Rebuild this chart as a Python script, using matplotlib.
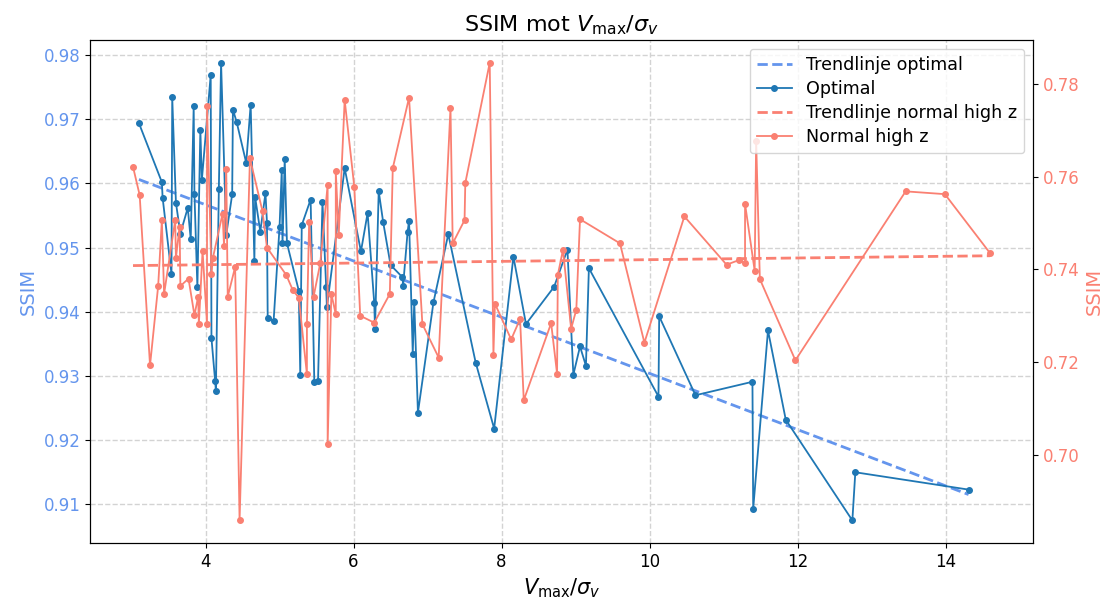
import numpy as np
import matplotlib
matplotlib.use("Agg")
import matplotlib.pyplot as plt

# Optimal
x_opt = [3.10, 3.41, 3.42, 3.54, 3.55, 3.60, 3.66, 3.76, 3.80, 3.84, 3.85, 3.89, 3.93, 3.95,
         4.07, 4.08, 4.13, 4.14, 4.18, 4.21, 4.28, 4.36, 4.37, 4.42, 4.55, 4.61, 4.66, 4.67,
         4.74, 4.81, 4.83, 4.84, 4.92, 5.00, 5.03, 5.04, 5.07, 5.10, 5.26, 5.28, 5.30, 5.42,
         5.47, 5.52, 5.58, 5.63, 5.64, 5.88, 6.10, 6.19, 6.28, 6.29, 6.34, 6.40, 6.50, 6.66,
         6.67, 6.73, 6.75, 6.80, 6.82, 6.87, 7.08, 7.28, 7.65, 7.90, 8.16, 8.33, 8.71, 8.89,
         8.97, 9.06, 9.14, 9.18, 10.12, 10.13, 10.62, 11.39, 11.40, 11.60, 11.84, 12.74, 12.78, 14.31]
ssim_opt = [0.9694, 0.9602, 0.9578, 0.9459, 0.9734, 0.9570, 0.9522, 0.9562, 0.9513, 0.9720, 0.9584, 0.9438, 0.9684, 0.9605,
            0.9769, 0.9359, 0.9292, 0.9277, 0.9592, 0.9788, 0.9520, 0.9583, 0.9715, 0.9696, 0.9632, 0.9723, 0.9479, 0.9579,
            0.9525, 0.9585, 0.9539, 0.9390, 0.9386, 0.9532, 0.9621, 0.9507, 0.9638, 0.9507, 0.9433, 0.9302, 0.9535, 0.9575,
            0.9290, 0.9292, 0.9571, 0.9439, 0.9407, 0.9624, 0.9494, 0.9554, 0.9413, 0.9373, 0.9588, 0.9540, 0.9473, 0.9454,
            0.9441, 0.9524, 0.9542, 0.9335, 0.9416, 0.9243, 0.9415, 0.9521, 0.9321, 0.9218, 0.9486, 0.9381, 0.9439, 0.9497,
            0.9302, 0.9346, 0.9316, 0.9468, 0.9268, 0.9393, 0.9270, 0.9291, 0.9093, 0.9371, 0.9232, 0.9075, 0.9150, 0.9123]

# Normal high z
x_norm = [3.02, 3.11, 3.25, 3.36, 3.41, 3.44, 3.59, 3.60, 3.65, 3.66, 3.77, 3.85, 3.90, 3.91, 3.96,
          4.02, 4.02, 4.08, 4.10, 4.23, 4.25, 4.28, 4.30, 4.40, 4.46, 4.60, 4.77, 4.83, 5.09, 5.18,
          5.26, 5.37, 5.37, 5.40, 5.46, 5.55, 5.65, 5.65, 5.70, 5.76, 5.76, 5.80, 5.88, 6.01, 6.09,
          6.28, 6.49, 6.53, 6.75, 6.93, 7.15, 7.31, 7.34, 7.50, 7.51, 7.84, 7.89, 7.91, 8.13, 8.25,
          8.30, 8.67, 8.75, 8.76, 8.83, 8.94, 9.01, 9.06, 9.60, 9.93, 10.47, 11.04, 11.21, 11.29, 11.29,
          11.42, 11.44, 11.49, 11.97, 13.46, 13.99, 14.60]
ssim_norm = [0.7621, 0.7560, 0.7193, 0.7364, 0.7506, 0.7347, 0.7506, 0.7425, 0.7492, 0.7364, 0.7380, 0.7301, 0.7341, 0.7282, 0.7440,
             0.7283, 0.7753, 0.7391, 0.7425, 0.7520, 0.7451, 0.7616, 0.7341, 0.7405, 0.6859, 0.7639, 0.7525, 0.7447, 0.7388, 0.7355,
             0.7339, 0.7174, 0.7283, 0.7503, 0.7341, 0.7413, 0.7582, 0.7023, 0.7347, 0.7303, 0.7611, 0.7474, 0.7765, 0.7578, 0.7300,
             0.7285, 0.7347, 0.7618, 0.7770, 0.7282, 0.7210, 0.7748, 0.7456, 0.7506, 0.7586, 0.7845, 0.7216, 0.7326, 0.7249, 0.7293,
             0.7118, 0.7284, 0.7175, 0.7388, 0.7442, 0.7272, 0.7313, 0.7508, 0.7456, 0.7242, 0.7514, 0.7410, 0.7420, 0.7413, 0.7541,
             0.7397, 0.7677, 0.7379, 0.7204, 0.7568, 0.7562, 0.7435]

# trendlinjer (lineær tilpasning)
k1, m1 = np.polyfit(x_opt, ssim_opt, 1)
k2, m2 = np.polyfit(x_norm, ssim_norm, 1)
xt1 = np.array([min(x_opt), max(x_opt)])
xt2 = np.array([min(x_norm), max(x_norm)])

fig, ax1 = plt.subplots(figsize=(11.13, 6.05), dpi=100)
fig.subplots_adjust(left=0.081, right=0.928, top=0.934, bottom=0.102)

l1, = ax1.plot(xt1, k1 * xt1 + m1, '--', color='cornflowerblue', lw=2, label='Trendlinje optimal')
l2, = ax1.plot(x_opt, ssim_opt, '-o', color='#1f77b4', ms=4, lw=1.3, label='Optimal')
ax1.set_ylabel('SSIM', color='cornflowerblue', fontsize=14)
ax1.tick_params(axis='y', labelcolor='cornflowerblue', labelsize=12)
ax1.tick_params(axis='x', labelsize=12)
ax1.set_xlabel(r'$V_{\max}/\sigma_v$', fontsize=15)
ax1.grid(True, linestyle='--', color='lightgray', lw=1)

ax2 = ax1.twinx()
l3, = ax2.plot(xt2, k2 * xt2 + m2, '--', color='salmon', lw=2, label='Trendlinje normal high z')
l4, = ax2.plot(x_norm, ssim_norm, '-o', color='salmon', ms=4, lw=1.3, label='Normal high z')
ax2.set_ylabel('SSIM', color='salmon', fontsize=14)
ax2.tick_params(axis='y', labelcolor='salmon', labelsize=12)

ax2.legend(handles=[l1, l2, l3, l4], loc='upper right', fontsize=12.6, labelspacing=0.35)
plt.title(r'SSIM mot $V_{\max}/\sigma_v$', fontsize=16)

plt.savefig('out.png')
